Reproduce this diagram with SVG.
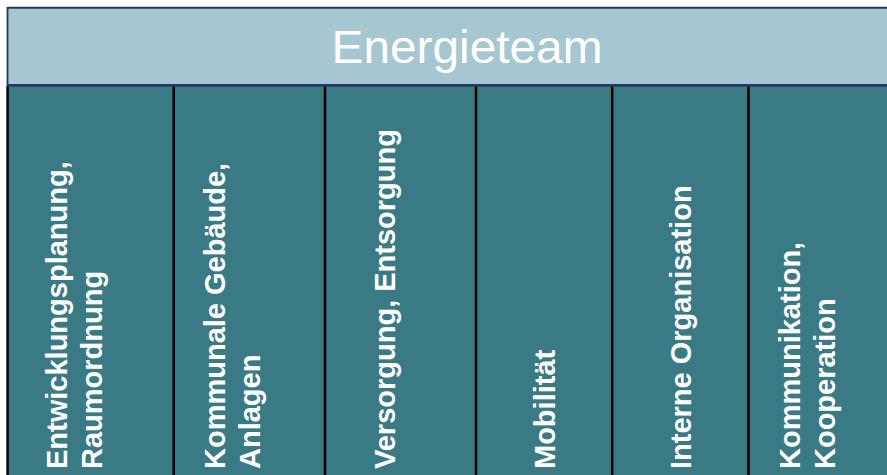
<svg xmlns="http://www.w3.org/2000/svg" width="887" height="475" viewBox="0 0 887 475">
<style>
.col{fill:#3A7A84;}
.div{stroke:#000;stroke-width:2.5;}
.lbl{font-family:"Liberation Sans",Arial,sans-serif;font-weight:bold;font-size:29px;fill:#fff;}
.title{font-family:"Liberation Sans",Arial,sans-serif;font-size:46.5px;fill:#fff;}
</style>
<rect x="0" y="0" width="887" height="475" fill="#fff"/>
<g id="header">
<rect x="8" y="8" width="880" height="77.5" fill="#A6C6D2"/>
<line x1="7.5" y1="7.8" x2="887" y2="7.8" stroke="#1F3864" stroke-width="2"/>
<line x1="7.5" y1="7" x2="7.5" y2="86" stroke="#1F3864" stroke-width="1.8"/>
<text class="title" x="331.5" y="63.3" textLength="271" lengthAdjust="spacingAndGlyphs">Energieteam</text>
</g>
<g id="col1">
<rect class="col" x="7" y="86" width="167" height="389"/>
<text class="lbl" transform="translate(67,469) rotate(-90)">Entwicklungsplanung,</text>
<text class="lbl" transform="translate(102,469) rotate(-90)">Raumordnung</text>
</g>
<g id="col2">
<rect class="col" x="174" y="86" width="151" height="389"/>
<text class="lbl" transform="translate(225,469) rotate(-90)">Kommunale Gebäude,</text>
<text class="lbl" transform="translate(260,469) rotate(-90)">Anlagen</text>
</g>
<g id="col3">
<rect class="col" x="325" y="86" width="151" height="389"/>
<text class="lbl" transform="translate(395,469) rotate(-90)">Versorgung, Entsorgung</text>
</g>
<g id="col4">
<rect class="col" x="476" y="86" width="136" height="389"/>
<text class="lbl" transform="translate(555,469) rotate(-90)">Mobilität</text>
</g>
<g id="col5">
<rect class="col" x="612" y="86" width="136" height="389"/>
<text class="lbl" transform="translate(691,469) rotate(-90)">Interne Organisation</text>
</g>
<g id="col6">
<rect class="col" x="748" y="86" width="139" height="389"/>
<text class="lbl" transform="translate(800,469) rotate(-90)">Kommunikation,</text>
<text class="lbl" transform="translate(835,469) rotate(-90)">Kooperation</text>
</g>
<g id="borders">
<line class="div" x1="7.6" y1="86" x2="7.6" y2="475"/>
<line class="div" x1="173.7" y1="86" x2="173.7" y2="475"/>
<line class="div" x1="325" y1="86" x2="325" y2="475"/>
<line class="div" x1="476" y1="86" x2="476" y2="475"/>
<line class="div" x1="612.2" y1="86" x2="612.2" y2="475"/>
<line class="div" x1="748.5" y1="86" x2="748.5" y2="475"/>
<line x1="7" y1="85.4" x2="887" y2="85.4" stroke="#1F3864" stroke-width="2.6"/>
</g>
<g id="connectors"/>
</svg>
